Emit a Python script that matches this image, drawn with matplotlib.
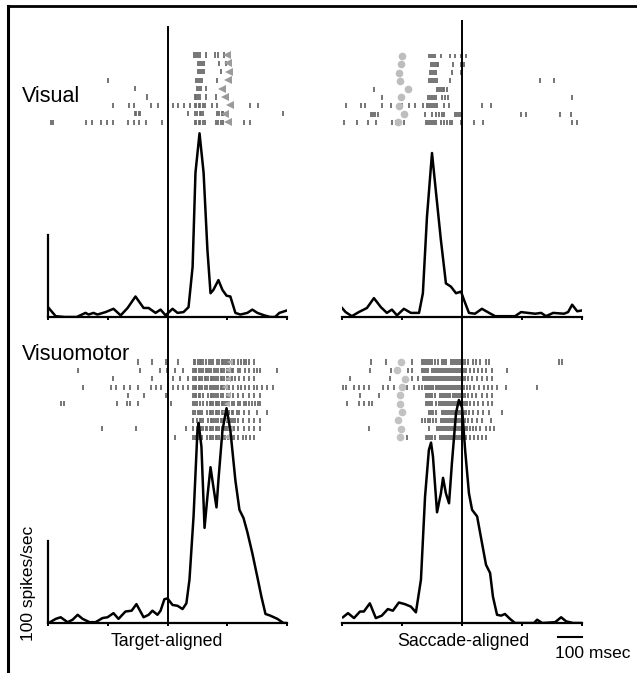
import matplotlib
matplotlib.use("Agg")
import matplotlib.pyplot as plt
from matplotlib.lines import Line2D
from matplotlib.transforms import blended_transform_factory

plt.rcParams['font.family'] = ['Liberation Sans', 'DejaVu Sans']

# ---------------- PSTH data (time ms, spikes/sec) ----------------
tl_t = [-497, -468, -430, -380, -343, -330, -310, -293, -259, -226, -196, -167, -134, -100, -79,
        -50, -29, -8, 21, 42, 67, 88, 105, 117, 134, 151, 167, 180, 192, 213, 230, 247, 263,
        284, 305, 334, 355, 376, 405, 430, 450, 468, 500]
tl_r = [11, 1, 0, 0, 5, 3, 5, 3, 6, 10, 2, 11, 25, 11, 11,
        5, 9, 2, 10, 5, 6, 12, 61, 176, 224, 176, 82, 29, 33, 45, 33, 26, 25,
        5, 3, 5, 9, 5, 2, 0, 0, 5, 8]

tr_t = [-500, -485, -459, -430, -396, -367, -338, -313, -292, -271, -242, -213, -179, -163, -146,
        -125, -108, -88, -67, -46, -25, -4, 8, 29, 54, 83, 113, 138, 179, 221, 246, 275, 305,
        330, 350, 380, 425, 442, 459, 480, 500]
tr_r = [11, 6, 1, 6, 11, 23, 12, 5, 9, 2, 10, 5, 5, 29, 122,
        200, 151, 94, 41, 37, 29, 31, 21, 5, 4, 10, 5, 1, 1, 1, 6, 5, 4,
        5, 1, 5, 4, 6, 15, 7, 8]

bl_t = [-497, -468, -447, -418, -397, -376, -355, -326, -301, -272, -251, -226, -205, -176, -150,
        -130, -100, -79, -63, -42, -29, -13, 0, 21, 42, 63, 79, 92, 109, 125, 130, 142, 155,
        167, 180, 192, 205, 213, 230, 247, 263, 284, 301, 318, 334, 355, 376, 393, 410, 430,
        460, 485, 500]
bl_r = [0, 5, 7, 1, 4, 10, 5, 1, 1, 6, 7, 12, 5, 14, 15,
        23, 7, 10, 15, 10, 15, 29, 30, 22, 21, 17, 24, 53, 130, 233, 244, 215, 116,
        154, 190, 166, 141, 174, 235, 262, 235, 174, 138, 128, 111, 85, 56, 32, 11, 9,
        5, 0, 0]

br_t = [-496, -475, -450, -425, -409, -384, -359, -334, -309, -288, -263, -238, -213, -192, -171,
        -154, -138, -129, -121, -104, -88, -79, -67, -54, -42, -25, -13, 0, 13, 29, 42, 63, 83,
        100, 117, 129, 146, 163, 179, 200, 221, 300, 313, 334, 388, 413, 434, 463, 500]
br_r = [7, 12, 6, 14, 14, 24, 6, 9, 17, 15, 25, 23, 20, 13, 53,
        154, 211, 220, 203, 135, 158, 177, 158, 146, 195, 256, 272, 263, 211, 158, 138, 130, 98,
        71, 61, 32, 10, 9, 11, 5, 0, 0, 4, 0, 1, 7, 2, 0, 0]

# ---------------- raster data (spike times, ms) ----------------
tl_spikes = [
    [112, 119, 126, 134, 163, 200, 213, 236],
    [128, 135, 143, 152, 217, 243],
    [128, 136, 145, 153, 222],
    [-250, 121, 129, 137, 146, 209],
    [-138, 125, 133, 142, 163],
    [-84, 113, 121, 129, 137, 163, 201],
    [-226, -159, -142, -67, -38, 4, 21, 42, 67, 96, 113, 121, 130, 138, 147, 155, 188, 209, 347, 380],
    [-138, -130, -121, -113, 84, 113, 125, 134, 142, 150, 209, 217, 226, 234, 485],
    [-489, -481, -343, -314, -280, -255, -226, -167, -142, -121, -92, -21, 0, 113, 121, 130, 138,
     147, 155, 205, 213, 222, 234, 318, 347],
]
tl_saccade = [251, 255, 258, 255, 226, 242, 263, 242, 255]

tr_spikes = [
    [-138, -130, -121, -113, -88, -50, -29, -4, 0, 17],
    [-129, -121, -113, -106, -100, -38, -4, 2, 8],
    [-134, -126, -117, -108, -42, -4],
    [-138, -130, -121, -112, -104, -50, 325, 384],
    [-367, -104, -96, -88, -80, -75, -63],
    [-334, -142, -134, -125, -117, -108, -83, -71, -58, 459],
    [-484, -421, -404, -334, -296, -250, -221, -196, -163, -146, -138, -129, -121, -112, -104,
     -75, -54, 83, 121],
    [-379, -371, -363, -350, -154, -125, -108, -96, -84, -75, -29, -21, -13, -4, 246, 267, 409, 454],
    [-492, -438, -392, -359, -292, -275, -242, -150, -142, -133, -125, -117, -108, -88, -75, -63,
     -50, -42, -4, 50, 88, 459, 480],
]
tr_target = [-250, -254, -263, -258, -225, -254, -263, -242, -267]

bl_spikes = [
    [-125, -63, -8, 46, 109, 117, 126, 134, 142, 150, 163, 175, 184, 192, 209, 217, 226, 234, 242,
     251, 259, 268, 280, 297, 309, 318, 330, 343, 360],
    [-376, -117, -33, -4, 33, 63, 105, 113, 121, 130, 142, 150, 159, 167, 175, 184, 196, 205, 213,
     222, 230, 238, 247, 259, 268, 276, 293, 305, 326, 343, 360, 376, 389, 460],
    [-230, -63, 0, 25, 54, 84, 105, 113, 121, 130, 138, 146, 155, 163, 171, 180, 188, 196, 205, 213,
     222, 230, 238, 247, 255, 268, 284, 301, 322, 339, 360],
    [-355, -238, -217, -184, -155, -125, -71, -50, -29, 0, 21, 42, 63, 84, 105, 113, 121, 130, 138,
     146, 155, 167, 176, 188, 196, 205, 213, 222, 230, 238, 247, 259, 276, 293, 309, 326, 343, 360,
     376, 397, 418, 443],
    [-167, -100, -8, 105, 113, 121, 130, 138, 150, 171, 180, 188, 196, 205, 213, 222, 234, 247, 259,
     272, 293, 314, 339, 364, 389],
    [-447, -434, -213, -171, -155, -125, 13, 105, 113, 125, 138, 150, 167, 176, 184, 192, 201, 209,
     217, 226, 234, 242, 251, 259, 268, 280, 293, 305, 318, 330, 343, 355, 368, 380, 389],
    [107, 117, 126, 136, 146, 167, 176, 184, 192, 201, 209, 217, 226, 234, 242, 251, 259, 268, 276,
     289, 301, 318, 343, 376, 418],
    [105, 125, 134, 142, 150, 171, 180, 188, 196, 205, 213, 222, 230, 238, 247, 255, 264, 272, 284,
     297, 314, 339, 364, 389],
    [-276, -130, 79, 105, 125, 134, 142, 150, 159, 167, 176, 184, 192, 201, 209, 217, 226, 234, 242,
     251, 259, 268, 280, 297, 318, 343, 364, 389],
    [33, 105, 113, 121, 130, 138, 146, 167, 176, 184, 192, 201, 209, 217, 226, 234, 242, 255, 268,
     280, 297, 314, 330, 347, 360],
]
bl_saccade = [263, 255, 255, 242, 255, 251, 242, 251, 263, 251]

br_spikes = [
    [-379, -317, -208, -167, -158, -150, -142, -133, -125, -113, -100, -83, -75, -67, -46, -38, -29,
     -21, -13, -4, 4, 13, 25, 46, 58, 75, 100, 113, 405, 417],
    [-384, -296, -225, -208, -167, -158, -150, -142, -125, -117, -108, -100, -92, -83, -75, -67, -58,
     -50, -42, -33, -25, -17, -8, 0, 8, 17, 33, 50, 67, 83, 100, 125, 188],
    [-467, -300, -208, -184, -163, -154, -146, -138, -129, -121, -113, -104, -96, -88, -79, -71, -63,
     -54, -46, -38, -29, -21, -13, -4, 4, 13, 25, 42, 63, 83, 104, 125],
    [-496, -484, -450, -429, -409, -388, -329, -308, -284, -229, -200, -179, -167, -154, -146, -138,
     -129, -121, -108, -100, -92, -83, -75, -67, -58, -50, -42, -33, -25, -17, -8, 0, 8, 21, 33, 50,
     71, 92, 108, 125, 146, 183, 313],
    [-425, -346, -150, -142, -133, -125, -113, -92, -83, -75, -67, -58, -50, -38, -29, -21, -13, -4,
     4, 13, 25, 42, 58, 83, 104, 125],
    [-479, -429, -409, -388, -375, -150, -142, -133, -125, -108, -96, -88, -79, -71, -63, -54, -46,
     -38, -29, -21, -13, -4, 4, 13, 21, 33, 50, 67, 88, 108, 125],
    [-138, -129, -121, -108, -83, -75, -67, -58, -50, -42, -33, -25, -17, -8, 0, 8, 17, 29, 46, 67,
     88, 113, 167],
    [-167, -154, -142, -133, -121, -108, -88, -79, -71, -63, -54, -46, -38, -29, -21, -13, -4, 4, 13,
     25, 42, 63, 83, 121],
    [-388, -138, -104, -96, -88, -79, -71, -63, -54, -46, -38, -29, -21, -13, -4, 4, 13, 21, 33, 46,
     58, 75, 100, 117, 133],
    [-229, -150, -142, -133, -125, -113, -92, -83, -75, -67, -58, -50, -42, -33, -25, -17, -8, 0, 8,
     17, 33, 50, 67, 83, 100],
]
br_target = [-254, -271, -238, -250, -258, -258, -250, -267, -254, -258]

xticks = [-500, -250, 0, 250, 500]
W, H = 637, 673
SPIKE = '#6a6a6a'

fig = plt.figure(figsize=(W / 100, H / 100), dpi=100)


def px_axes(x0, y_top, w, h):
    # axes placed by pixel box (y measured from top of the image)
    return fig.add_axes([x0 / W, 1 - (y_top + h) / H, w / W, h / H])


def psth(x0, w, base_y, t, r, scalebar):
    h = 300 * 0.82
    ax = px_axes(x0, base_y - h, w, h)
    ax.plot(t, r, color='black', lw=1.8, solid_joinstyle='round')
    ax.set_xlim(-500, 500)
    ax.set_ylim(0, 300)
    for s in ['top', 'right', 'left']:
        ax.spines[s].set_visible(False)
    ax.spines['bottom'].set_linewidth(1.6)
    ax.set_xticks(xticks)
    ax.set_xticklabels([])
    ax.set_yticks([])
    ax.tick_params(axis='x', direction='out', length=2.5, width=1.4)
    ax.patch.set_alpha(0)
    if scalebar:
        ax.plot([-500, -500], [0, 100], color='black', lw=1.6, clip_on=False)
    return ax


def raster(x0, w, top_y, rowh, spikes, marks, marker, mcolor, msize):
    n = len(spikes)
    ax = px_axes(x0, top_y - rowh / 2, w, rowh * n)
    ax.eventplot(spikes, lineoffsets=list(range(n)), linelengths=0.6,
                 linewidths=1.3, colors=SPIKE)
    ax.plot(marks, list(range(n)), ls='none', marker=marker, color=mcolor,
            markersize=msize, markeredgewidth=0)
    ax.set_xlim(-500, 500)
    ax.set_ylim(n - 0.5, -0.5)
    ax.axis('off')
    return ax


# rasters
raster(48, 239, 55, 8.4, tl_spikes, tl_saccade, '<', '#9a9a9a', 6)
raster(342, 240, 56, 8.3, tr_spikes, tr_target, 'o', '#bdbdbd', 5.5)
raster(48, 239, 362, 8.35, bl_spikes, bl_saccade, '<', '#b0b0b0', 5)
raster(342, 240, 362, 8.35, br_spikes, br_target, 'o', '#c2c2c2', 5.5)

# PSTHs
ax_tl = psth(48, 239, 317, tl_t, tl_r, True)
ax_tr = psth(342, 240, 317, tr_t, tr_r, False)
ax_bl = psth(48, 239, 623, bl_t, bl_r, True)
ax_br = psth(342, 240, 623, br_t, br_r, False)

# alignment lines spanning both rows
for ax, ytop in [(ax_bl, 27), (ax_br, 21)]:
    tr = blended_transform_factory(ax.transData, fig.transFigure)
    fig.add_artist(Line2D([0, 0], [1 - ytop / H, 1 - 623 / H], transform=tr,
                          color='black', lw=1.4))

# 100 msec scale bar
tr = blended_transform_factory(ax_br.transData, fig.transFigure)
fig.add_artist(Line2D([400, 500], [1 - 637 / H, 1 - 637 / H], transform=tr,
                      color='black', lw=1.5))

# labels
fig.text(22 / W, 1 - 97 / H, 'Visual', fontsize=15.5, va='center', ha='left')
fig.text(22 / W, 1 - 354 / H, 'Visuomotor', fontsize=15.5, va='center', ha='left')
fig.text(167 / W, 1 - 642 / H, 'Target-aligned', fontsize=12.8, va='center', ha='center')
fig.text(463 / W, 1 - 642 / H, 'Saccade-aligned', fontsize=12.8, va='center', ha='center')
fig.text(593 / W, 1 - 653 / H, '100 msec', fontsize=12.5, va='center', ha='center')
fig.text(29 / W, 1 - 583 / H, '100 spikes/sec', fontsize=12.5, va='center', ha='center',
         rotation=90)

# frame (top and left edges)
fig.add_artist(Line2D([8 / W, 1], [1 - 6 / H, 1 - 6 / H], transform=fig.transFigure,
                      color='black', lw=2))
fig.add_artist(Line2D([8 / W, 8 / W], [0, 1 - 6 / H], transform=fig.transFigure,
                      color='black', lw=2.2))

fig.savefig('out.png', dpi=100)
